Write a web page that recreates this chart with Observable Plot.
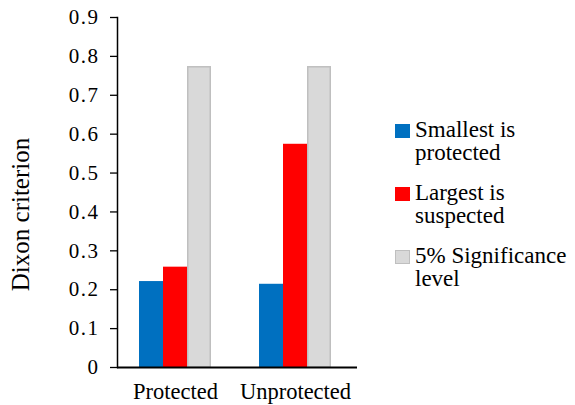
<!DOCTYPE html>
<html>
<head>
<meta charset="utf-8">
<script src="https://cdn.jsdelivr.net/npm/d3@7"></script>
<script src="https://cdn.jsdelivr.net/npm/@observablehq/plot@0.6"></script>
<style>
  html, body { margin: 0; padding: 0; background: #fff; }
  #wrap { position: relative; width: 575px; height: 405px; }
  #legend { position: absolute; left: 395px; top: 117.7px; font-size: 23px; color: #000; }
  .item { position: relative; padding-left: 20px; line-height: 23px; margin-bottom: 17px; white-space: nowrap; }
  .sw { position: absolute; left: 0; top: 6.6px; width: 15px; height: 14px; box-sizing: border-box; }
</style>
</head>
<body>
<div id="wrap"></div>
<script>
const categories = ["Protected", "Unprotected"];
const seriesNames = ["Smallest is protected", "Largest is suspected", "5% Significance level"];
const legendLines = [["Smallest is", "protected"], ["Largest is", "suspected"], ["5% Significance", "level"]];
const smallest = [0.221, 0.214];
const largest = [0.258, 0.574];
const significance = [0.772, 0.772];
const seriesFill = ["#0070C0", "#FF0000", "#D9D9D9"];
const seriesStroke = ["none", "none", "#BFBFBF"];
const yTicks = [0, 0.1, 0.2, 0.3, 0.4, 0.5, 0.6, 0.7, 0.8, 0.9];
const yTickLabels = ["0", "0.1", "0.2", "0.3", "0.4", "0.5", "0.6", "0.7", "0.8", "0.9"];
const yLabel = "Dixon criterion";

const FONT = "'Liberation Serif', 'DejaVu Serif', serif";
const seriesValues = [smallest, largest, significance];
const rows = [];
seriesValues.forEach((vals, s) => categories.forEach((c, i) => rows.push({category: c, series: seriesNames[s], s, value: vals[i]})));

const W = 575, H = 405, mL = 117, mR = 218, mT = 17, mB = 38;
const pInner = 0.4, pOuter = 0.2;
const step = (W - mL - mR) / (categories.length - pInner + 2 * pOuter);
const bw = step * (1 - pInner);
const third = bw / 3;

const barMarks = seriesNames.map((name, s) => Plot.barY(rows.filter(d => d.s === s), {
  x: "category", y: "value",
  fill: seriesFill[s], stroke: seriesStroke[s], strokeWidth: 1.5,
  insetLeft: s * third + (s === 2 ? 0.75 : 0), insetRight: (2 - s) * third + (s === 2 ? 0.75 : 0)
}));

const chart = Plot.plot({
  width: W, height: H,
  marginLeft: mL, marginRight: mR, marginTop: mT, marginBottom: mB,
  style: {fontFamily: FONT, color: "#000", background: "#fff"},
  x: {domain: categories, paddingInner: pInner, paddingOuter: pOuter, align: 0.46},
  y: {domain: [0, 0.9]},
  marks: [
    ...barMarks,
    Plot.axisY({ticks: yTicks, tickFormat: (d) => yTickLabels[yTicks.indexOf(d)], tickSize: 7, tickPadding: 11,
      fontSize: 21, fontFamily: FONT, fontVariant: "normal", stroke: "#000", strokeWidth: 1.3, label: null}),
    Plot.axisX({tickSize: 0, tickPadding: 16, fontSize: 22.5, fontFamily: FONT, label: null}),
    Plot.text([yLabel], {frameAnchor: "left", textAnchor: "middle", lineAnchor: "middle", rotate: -90, dx: -97, dy: 22, fontSize: 25, fontFamily: FONT, fill: "#000"}),
    Plot.frame({anchor: "left", stroke: "#000", strokeWidth: 1.5}),
    Plot.ruleY([0], {stroke: "#000", strokeWidth: 2})
  ]
});
d3.select(chart).selectAll("g[aria-label='y-axis tick label'] text")
  .attr("letter-spacing", "1.5px")
  .style("font-family", FONT)
  .style("font-variant", "normal");
document.getElementById("wrap").appendChild(chart);

const legend = document.createElement("div");
legend.id = "legend";
legend.style.fontFamily = FONT;
legendLines.forEach((lines, s) => {
  const item = document.createElement("div");
  item.className = "item";
  const sw = document.createElement("span");
  sw.className = "sw";
  sw.style.background = seriesFill[s];
  if (seriesStroke[s] !== "none") sw.style.border = "1.5px solid " + seriesStroke[s];
  item.appendChild(sw);
  lines.forEach(l => { const t = document.createElement("div"); t.textContent = l; t.style.fontFamily = FONT; item.appendChild(t); });
  legend.appendChild(item);
});
document.getElementById("wrap").appendChild(legend);
</script>
</body>
</html>
